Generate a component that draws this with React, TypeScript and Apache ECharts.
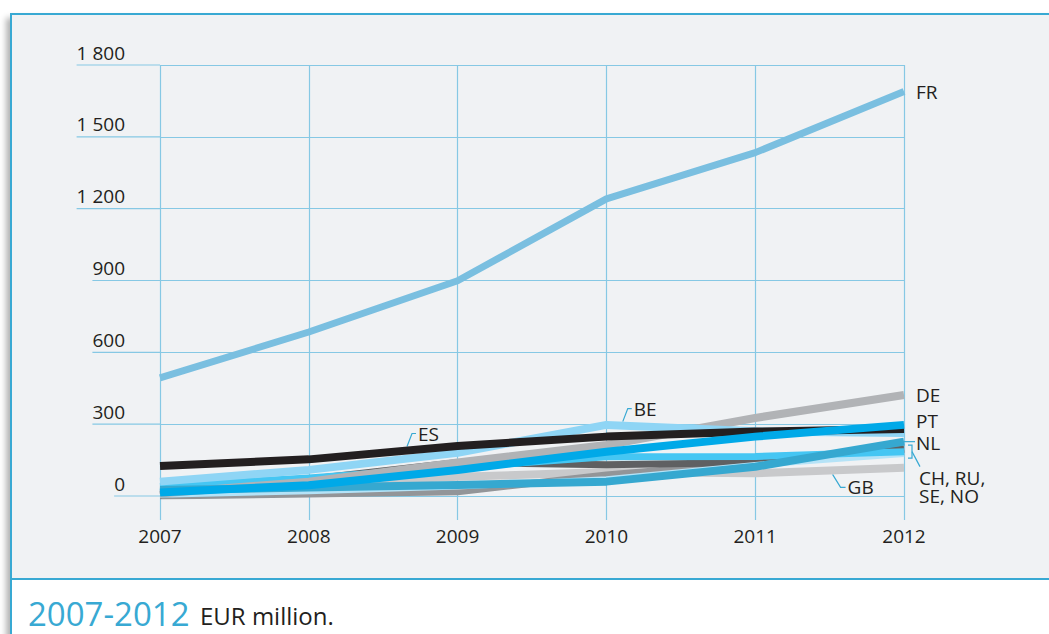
import { useEffect, useRef } from 'react';
import * as echarts from 'echarts';

const years = ['2007', '2008', '2009', '2010', '2011', '2012'];
const yTicks = [0, 300, 600, 900, 1200, 1500, 1800];

const FR = [493, 685, 899, 1241, 1434, 1689];
const ES = [125, 153, 209, 248, 269, 280];
const BE = [60, 109, 180, 297, 270, 263];
const DE = [10, 60, 140, 213, 326, 422];
const PT = [15, 45, 109, 185, 248, 297];
const NL = [25, 35, 46, 60, 122, 227];
const GB = [20, 50, 80, 100, 95, 118];
const CH = [5, 70, 140, 130, 140, 195];
const RU = [0, 8, 18, 88, 140, 200];
const SE = [40, 75, 120, 164, 165, 185];
const NO = [5, 20, 40, 70, 130, 175];
const groupLabelLines = ['CH, RU,', 'SE, NO'];

const FONT = '"Open Sans", "Noto Sans", sans-serif';
const FS = 19;
const TEXT = '#231f20';
const GRID = '#86c8e4';
const ACCENT = '#38a9d3';
const LABEL_MARGIN = 35;

const fmt = (v: number) => String(v).replace(/\B(?=(\d{3})+(?!\d))/g, ' ');

export default function App() {
  const ref = useRef<HTMLDivElement>(null);

  useEffect(() => {
    if (!ref.current) return;
    const chart = echarts.init(ref.current, undefined, { renderer: 'svg' });
    const canvas = document.createElement('canvas');
    const ctx = canvas.getContext('2d')!;
    ctx.font = `${FS}px "Open Sans"`;

    const line = (name: string, data: number[], color: string, width = 8, endLabel?: any) => ({
      name,
      type: 'line',
      data,
      symbol: 'none',
      silent: true,
      lineStyle: { color, width, cap: 'butt', join: 'round' },
      endLabel: endLabel
        ? {
            show: true,
            formatter: name,
            distance: 12,
            color: TEXT,
            fontSize: FS,
            fontFamily: FONT,
            lineHeight: 19,
            ...endLabel,
          }
        : undefined,
    });

    const option: any = {
      animation: false,
      backgroundColor: 'transparent',
      grid: { left: 160, right: 145, top: 65, bottom: 138, containLabel: false },
      xAxis: {
        type: 'category',
        data: years,
        boundaryGap: false,
        axisLine: { show: false },
        axisTick: { show: true, length: 24, lineStyle: { color: GRID, width: 1.2 } },
        splitLine: { show: true, lineStyle: { color: GRID, width: 1.2 } },
        axisLabel: { color: TEXT, fontSize: FS, fontFamily: FONT, margin: 30 },
      },
      yAxis: {
        type: 'value',
        min: 0,
        max: 1800,
        interval: 300,
        axisLine: { show: false },
        axisTick: { show: false },
        splitLine: { show: true, lineStyle: { color: GRID, width: 1.2 } },
        axisLabel: {
          color: TEXT,
          fontSize: FS,
          fontFamily: FONT,
          margin: LABEL_MARGIN,
          align: 'right',
          verticalAlign: 'bottom',
          padding: [0, 0, 3, 0],
          formatter: (v: number) => fmt(v),
        },
      },
      series: [
        {
          type: 'custom',
          silent: true,
          z: 0,
          data: yTicks.map((v) => [0, v]),
          renderItem: (_p: any, api: any) => {
            const v = api.value(1);
            const p = api.coord([0, v]);
            const w = ctx.measureText(fmt(v)).width;
            return {
              type: 'line',
              shape: { x1: p[0] - LABEL_MARGIN - w, y1: p[1], x2: p[0], y2: p[1] },
              style: { stroke: GRID, lineWidth: 1.2 },
            };
          },
        },
        line('GB', GB, '#c8c9cb', 8),
        line('RU', RU, '#939598', 7),
        line('CH', CH, '#5f6062', 7),
        line('NO', NO, '#b5e3f7', 6),
        line('SE', SE, '#45c6f3', 7),
        line('DE', DE, '#b1b3b6', 8, {}),
        line('NL', NL, '#36a8d0', 8, { offset: [0, 1] }),
        line('BE', BE, '#8fd5f5', 8),
        line('ES', ES, '#231f20', 8),
        line('PT', PT, '#00a9e8', 8, { offset: [0, -4] }),
        line('FR', FR, '#7abfe0', 7, {}),
      ],
    };
    chart.setOption(option);

    const px = (i: number, v: number) => chart.convertToPixel({ gridIndex: 0 }, [i, v]) as number[];
    const at = (arr: number[], t: number) => {
      const i = Math.floor(t);
      const f = t - i;
      const j = Math.min(i + 1, arr.length - 1);
      const v = arr[i] + (arr[j] - arr[i]) * f;
      const p0 = px(i, v);
      const p1 = px(j, v);
      return [p0[0] + (p1[0] - p0[0]) * f, p0[1]];
    };
    const leaderStyle = { stroke: ACCENT, lineWidth: 1.2, fill: 'none' };
    const textEl = (text: string, x: number, y: number, extra: any = {}) => ({
      type: 'text',
      x,
      y,
      silent: true,
      style: { text, fill: TEXT, font: `${FS}px ${FONT}`, verticalAlign: 'middle', ...extra },
    });
    const upCallout = (name: string, arr: number[], t: number) => {
      const [x, y] = at(arr, t);
      return [
        { type: 'polyline', silent: true, shape: { points: [[x, y - 4], [x + 5, y - 17], [x + 9, y - 17]] }, style: leaderStyle },
        textEl(name, x + 11, y - 17),
      ];
    };
    const downCallout = (name: string, arr: number[], t: number) => {
      const [x, y] = at(arr, t);
      return [
        { type: 'polyline', silent: true, shape: { points: [[x, y + 4], [x + 8, y + 17], [x + 13, y + 17]] }, style: leaderStyle },
        textEl(name, x + 15, y + 17),
      ];
    };

    const last = years.length - 1;
    const nlEnd = px(last, NL[last]);
    const groupYs = [CH, RU, SE, NO].map((a) => px(last, a[last])[1]);
    const top = Math.min(...groupYs) - 3;
    const bot = Math.max(...groupYs) + 4;
    const bx = nlEnd[0];
    const mid = (top + bot) / 2;

    chart.setOption({
      graphic: [
        ...upCallout('ES', ES, 1.66),
        ...upCallout('BE', BE, 3.11),
        ...downCallout('GB', GB, 4.52),
        { type: 'line', silent: true, shape: { x1: bx, y1: nlEnd[1], x2: bx + 11, y2: nlEnd[1] }, style: leaderStyle },
        {
          type: 'polyline',
          silent: true,
          shape: { points: [[bx + 4, top], [bx + 8, top], [bx + 8, bot], [bx + 4, bot]] },
          style: leaderStyle,
        },
        { type: 'line', silent: true, shape: { x1: bx + 8, y1: mid, x2: bx + 16, y2: mid + 15 }, style: leaderStyle },
        ...groupLabelLines.map((t, k) => textEl(t, bx + 15, mid + 26 + k * 18)),
        {
          type: 'text',
          x: 28,
          y: 613,
          silent: true,
          style: { text: '2007-2012', fill: ACCENT, font: `33px ${FONT}`, verticalAlign: 'middle' },
        },
        {
          type: 'text',
          x: 200,
          y: 615,
          silent: true,
          style: { text: 'EUR million.', fill: TEXT, font: `24px ${FONT}`, verticalAlign: 'middle' },
        },
      ],
    });

    return () => chart.dispose();
  }, []);

  return (
    <div style={{ position: 'absolute', left: 0, top: 0, width: 1049, height: 634, background: '#ffffff', overflow: 'hidden' }}>
      <div
        style={{
          position: 'absolute',
          left: 10,
          top: 13,
          width: 1200,
          height: 800,
          background: '#f0f2f4',
          borderLeft: `2px solid ${ACCENT}`,
          borderTop: `2px solid ${ACCENT}`,
          boxShadow: '-5px 4px 6px -1px rgba(0,0,0,0.3)',
        }}
      />
      <div
        style={{
          position: 'absolute',
          left: 12,
          top: 578,
          width: 1200,
          height: 200,
          background: '#ffffff',
          borderTop: `2px solid ${ACCENT}`,
        }}
      />
      <div ref={ref} style={{ position: 'absolute', left: 0, top: 0, width: 1049, height: 634 }} />
    </div>
  );
}
